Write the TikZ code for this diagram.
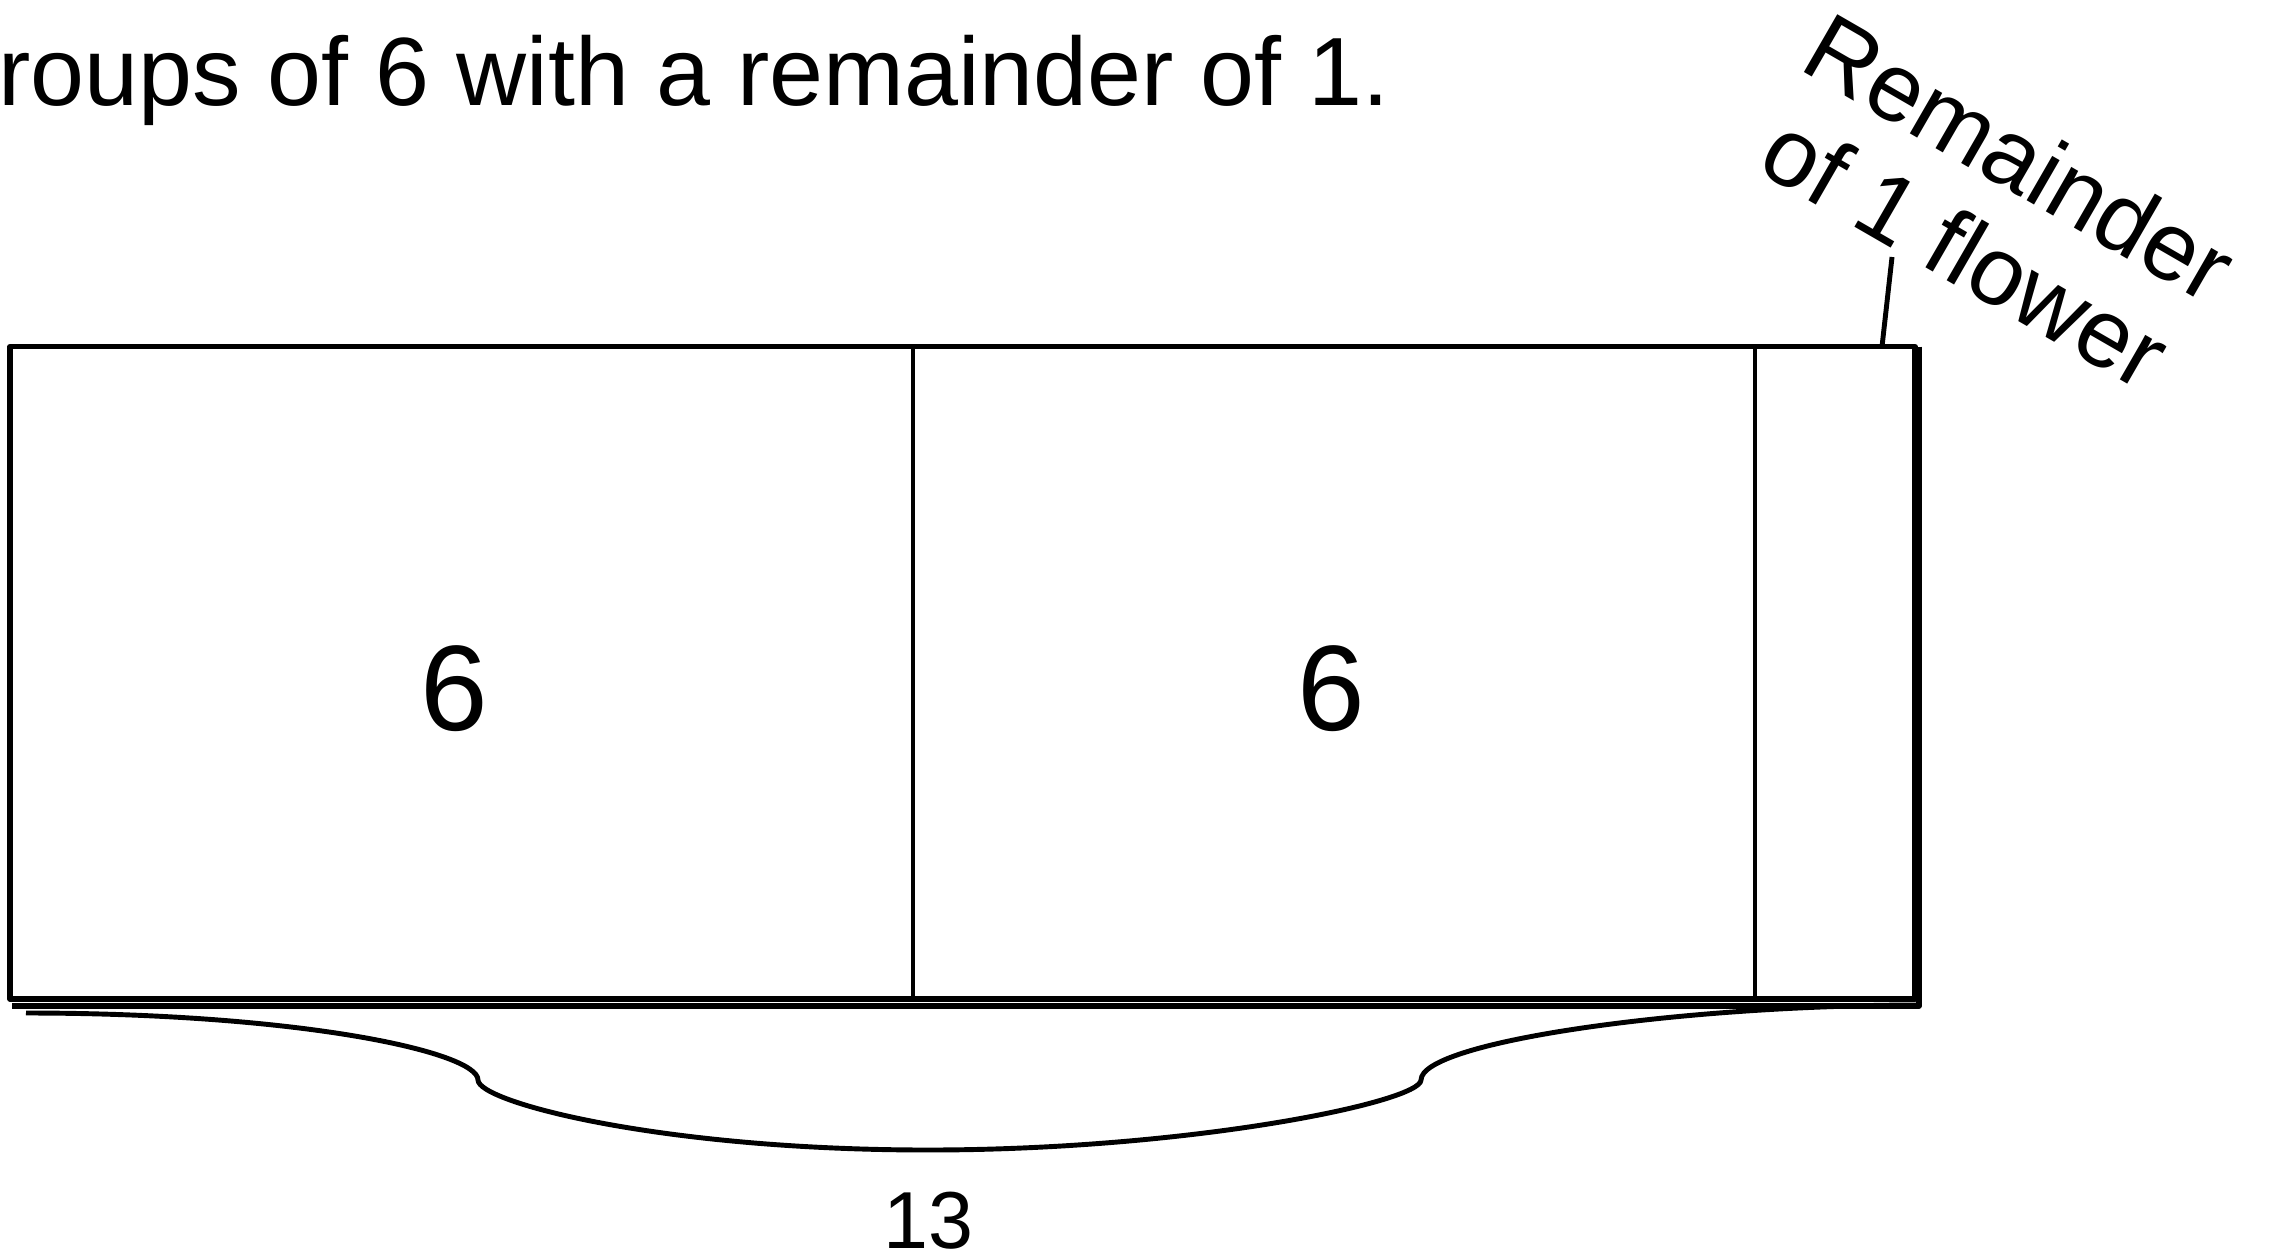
\documentclass[tikz,border=0pt]{standalone}
\usepackage{fontspec}
\setmainfont{Liberation Sans}
\begin{document}
\begin{tikzpicture}[line width=1.45pt, line join=round,
    big/.style={font=\fontsize{34.6}{40}\selectfont},
    txt/.style={font=\fontsize{27.6}{31}\selectfont, inner sep=0pt}]
  \useasboundingbox (0,0) rectangle (22.73,12.52);

  % 1. Corners of the bar and the two dividers
  \coordinate (TL) at (0.10,9.055);
  \coordinate (BR) at (19.15,2.53);
  \coordinate (D1) at (9.13,9.055);
  \coordinate (D2) at (17.55,9.055);

  % 2. Draw the bar (twice along the bottom and right)
  \draw (TL) rectangle (BR);
  \draw (19.19,9.055) -- (19.19,2.46) -- (0.12,2.46);
  \draw[line width=1.4pt] (D1) -- (D1 |- BR);
  \draw[line width=1.4pt] (D2) -- (D2 |- BR);

  % 3. Group labels
  \node[big] (six1) at (4.54,5.63) {6};
  \node[big] (six2) at (13.31,5.63) {6};

  % 4. The brace under the bar and its total
  \coordinate (b1) at (0.26,2.39);
  \coordinate (b2) at (4.78,1.72);
  \coordinate (b3) at (9.28,1.02);
  \coordinate (b4) at (14.21,1.72);
  \coordinate (b5) at (19.20,2.47);
  \draw[line width=1.4pt] (b1) .. controls (3.0,2.39) and (4.78,2.0) .. (b2)
    .. controls (4.78,1.5) and (6.6,1.02) .. (b3)
    .. controls (11.9,1.02) and (14.21,1.5) .. (b4)
    .. controls (14.21,2.1) and (16.8,2.47) .. (b5);
  \node[font=\fontsize{23}{27}\selectfont] (total) at (9.28,0.31) {13};

  % 5. Remainder label with its leader
  \node[txt, rotate=-30, align=center] (rem) at (19.93,10.48) {Remainder\\of 1 flower};
  \coordinate (lead) at (18.92,9.95);
  \coordinate (remtop) at (18.82,9.055);
  \draw[line width=1.4pt] (lead) -- (remtop);

  % 6. Text line cut off at the top
  \node[txt, anchor=base west] (task) at (-0.58,11.46) {groups of 6 with a remainder of 1.};
\end{tikzpicture}
\end{document}
